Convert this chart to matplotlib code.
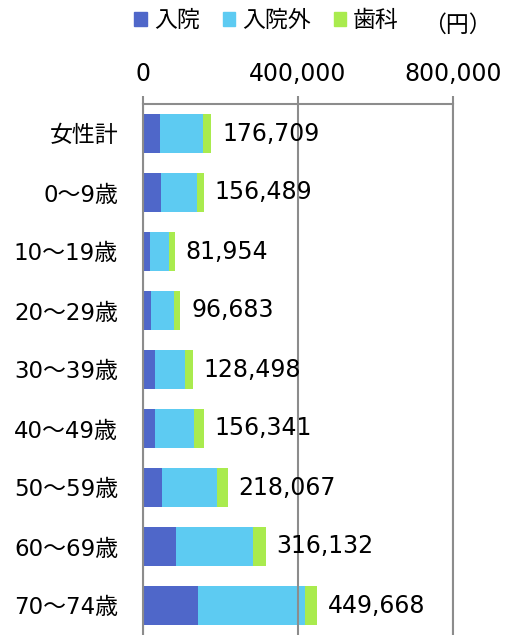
import matplotlib
matplotlib.use("Agg")
import matplotlib.pyplot as plt
import numpy as np
from matplotlib.patches import Patch

plt.rcParams['font.family'] = ['DejaVu Sans', 'Noto Sans CJK JP']

categories = ['女性計', '0～9歳', '10～19歳', '20～29歳', '30～39歳',
              '40～49歳', '50～59歳', '60～69歳', '70～74歳']
totals = [176709, 156489, 81954, 96683, 128498, 156341, 218067, 316132, 449668]
nyuin = [44000, 45600, 18000, 21500, 31000, 31800, 49000, 85000, 142800]
nyuingai = [111000, 93800, 50000, 58500, 77400, 100600, 142000, 199600, 275200]
shika = [t - a - b for t, a, b in zip(totals, nyuin, nyuingai)]

series_names = ['入院', '入院外', '歯科']
colors = ['#4F67C9', '#5DCBF2', '#A9EB4E']
xticks = [0, 400000, 800000]

fig = plt.figure(figsize=(5.07, 6.35), dpi=100)
ax = fig.add_axes([143/507, 0.0, 310/507, 1 - 104/635])

y = np.arange(len(categories))
h = 0.67
ax.barh(y, nyuin, height=h, color=colors[0])
ax.barh(y, nyuingai, height=h, left=nyuin, color=colors[1])
left2 = [a + b for a, b in zip(nyuin, nyuingai)]
ax.barh(y, shika, height=h, left=left2, color=colors[2])

for yi, t in zip(y, totals):
    ax.annotate(f'{t:,}', (t, yi), xytext=(8, 0), textcoords='offset points',
                va='center', ha='left', fontsize=17)

ax.set_xlim(0, 800000)
ax.set_ylim(len(categories) - 0.5, -0.5)
ax.set_xticks(xticks)
ax.set_xticklabels([f'{v:,}' for v in xticks], fontsize=17)
ax.xaxis.tick_top()
ax.tick_params(axis='x', length=6, width=1.5, color='#8C8C8C', pad=7)
ax.set_yticks(y)
ax.set_yticklabels(categories, fontsize=16.5)
ax.tick_params(axis='y', length=0, pad=18)

ax.grid(axis='x', color='#8C8C8C', linewidth=1.5)
ax.set_axisbelow(False)
for s in ['left', 'top', 'right']:
    ax.spines[s].set_color('#8C8C8C')
    ax.spines[s].set_linewidth(1.5)
ax.spines['bottom'].set_visible(False)

handles = [Patch(color=c, label=n) for c, n in zip(colors, series_names)]
fig.legend(handles=handles, ncol=3, loc='center', bbox_to_anchor=(0.526, 0.967),
           frameon=False, fontsize=16.5, handlelength=0.55, handleheight=0.55,
           handletextpad=0.3, columnspacing=1.0, borderpad=0)
fig.text(457/507, 1 - 25/635, '（円）', ha='center', va='center', fontsize=16.5,
         family='Noto Sans CJK JP')

fig.savefig('out.png', dpi=100)
